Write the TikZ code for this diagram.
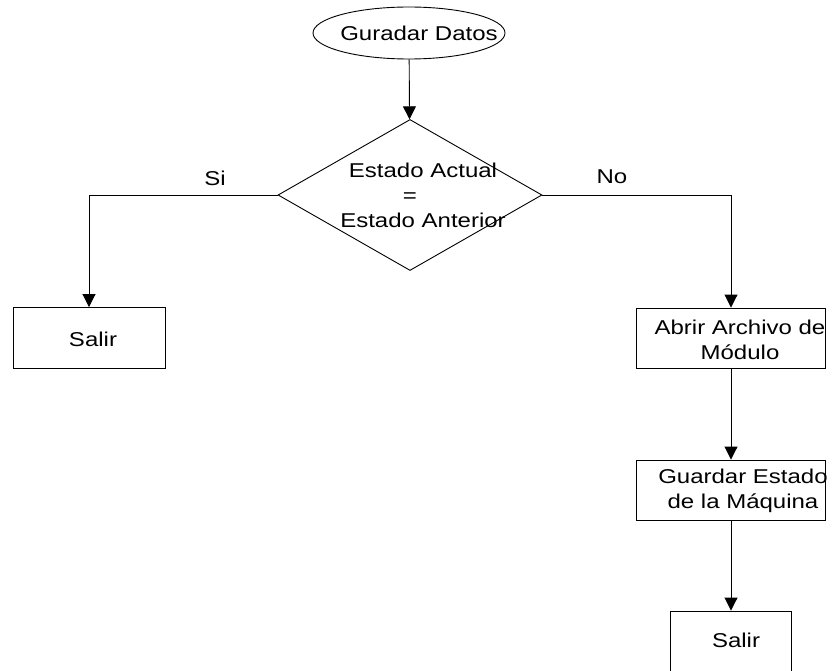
\documentclass[tikz,border=0pt]{standalone}
\usepackage{fontspec}
\setmainfont{Liberation Sans}[FakeStretch=1.2]
\usetikzlibrary{arrows.meta}
\usetikzlibrary{shapes.geometric}

\tikzset{
    txt/.style={font=\fontsize{20}{25}\selectfont, align=center, inner sep=0pt},
    caja/.style={draw, line width=0.9pt, inner sep=0pt},
    flecha/.style={line width=0.9pt, -{Triangle[length=13pt,width=13pt]}}
}

\begin{document}
\begin{tikzpicture}[x=1pt, y=-1pt]
        \clip (0,0) rectangle (835,671);

        % formas
        \node[caja, ellipse, minimum width=192pt, minimum height=52pt] (inicio) at (409,33) {};
        \node[caja, diamond, minimum width=264pt, minimum height=151pt] (cond) at (410,195) {};
        \node[caja, minimum width=152pt, minimum height=61pt] (salirA) at (89,338) {};
        \node[caja, minimum width=189pt, minimum height=60pt] (abrir) at (731,338) {};
        \node[caja, minimum width=189pt, minimum height=60pt] (guardar) at (731,490) {};
        \node[caja, minimum width=121pt, minimum height=120pt] (salirB) at (731,671) {};

        % textos
        \node[txt] (inicioT) at (419,33) {Guradar Datos};
        \node[txt] (condT) at (423,195) {Estado Actual\\\hspace*{-26pt}=\\Estado Anterior};
        \node[txt] (salirAT) at (93,339) {Salir};
        \node[txt] (abrirT) at (740,340) {Abrir Archivo de\\M\'odulo};
        \node[txt] (guardarT) at (743,491) {Guardar Estado\\de la M\'aquina};
        \node[txt] (salirBT) at (736,640) {Salir};
        \node[txt] (si) at (215,178) {Si};
        \node[txt] (no) at (612,177) {No};

        \draw[flecha] (inicio) -- (cond);
        \draw[flecha] (cond.west) -| (salirA.north);
        \draw[flecha] (cond.east) -| (abrir.north);
        \draw[flecha] (abrir) -- (guardar);
        \draw[flecha] (guardar) -- (salirB);
    \end{tikzpicture}
\end{document}
